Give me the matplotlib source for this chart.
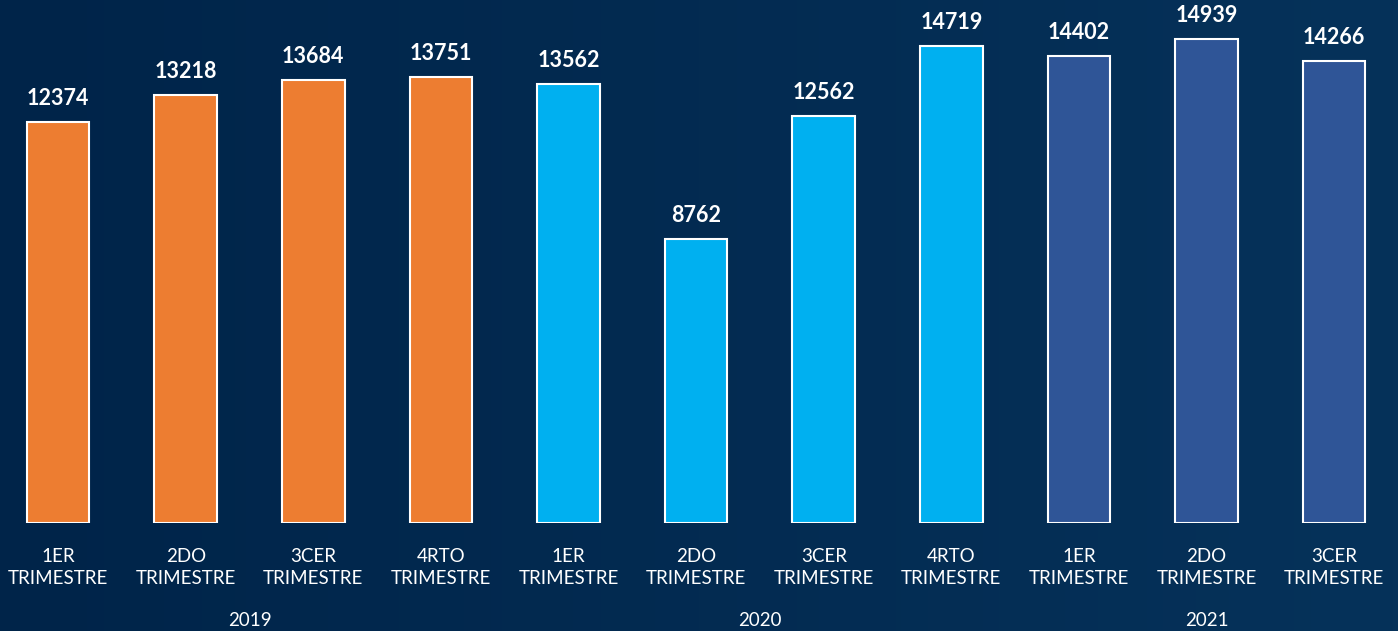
import numpy as np
import matplotlib
matplotlib.use("Agg")
import matplotlib.pyplot as plt
from matplotlib.colors import LinearSegmentedColormap
from matplotlib.transforms import blended_transform_factory

quarters = ["1ER\nTRIMESTRE", "2DO\nTRIMESTRE", "3CER\nTRIMESTRE", "4RTO\nTRIMESTRE",
            "1ER\nTRIMESTRE", "2DO\nTRIMESTRE", "3CER\nTRIMESTRE", "4RTO\nTRIMESTRE",
            "1ER\nTRIMESTRE", "2DO\nTRIMESTRE", "3CER\nTRIMESTRE"]
values = [12374, 13218, 13684, 13751, 13562, 8762, 12562, 14719, 14402, 14939, 14266]
years = ["2019", "2020", "2021"]
year_sizes = [4, 4, 3]
year_colors = ["#ED7D31", "#00B0F0", "#2F5597"]

plt.rcParams['font.family'] = ['Lato', 'DejaVu Sans']

fig = plt.figure(figsize=(13.98, 6.31), dpi=100)

# background gradient
bg = fig.add_axes([0, 0, 1, 1], zorder=0)
cmap = LinearSegmentedColormap.from_list("bg", ["#002449", "#06325a"])
grad = np.linspace(0, 1, 256).reshape(1, -1)
bg.imshow(grad, aspect="auto", cmap=cmap, extent=[0, 1, 0, 1])
bg.axis("off")

ax = fig.add_axes([0, (631 - 523) / 631, 1, 523 / 631], zorder=1)
ax.patch.set_alpha(0)

colors = []
for c, n in zip(year_colors, year_sizes):
    colors += [c] * n
x = np.arange(len(values))
bars = ax.bar(x, values, width=0.49, color=colors, edgecolor="white", linewidth=1.5)

for xi, v in zip(x, values):
    ax.annotate(str(v), (xi, v), xytext=(0, 17), textcoords="offset pixels",
                ha="center", va="baseline", color="white", fontsize=15.5, fontweight="bold")

ax.set_xlim(-0.455, 10.5)
ax.set_ylim(0, 16140)
ax.axis("off")

tr = blended_transform_factory(ax.transData, fig.transFigure)
for xi, lab in zip(x, quarters):
    fig.text(xi, 1 - 567.5 / 631, lab, transform=tr, ha="center", va="center",
             color="white", fontsize=13.5, linespacing=1.3)

start = 0
for yl, n in zip(years, year_sizes):
    center = start + (n - 1) / 2
    fig.text(center, 1 - 621 / 631, yl, transform=tr, ha="center", va="center",
             color="white", fontsize=13.5)
    start += n

fig.savefig("out.png", dpi=100)
